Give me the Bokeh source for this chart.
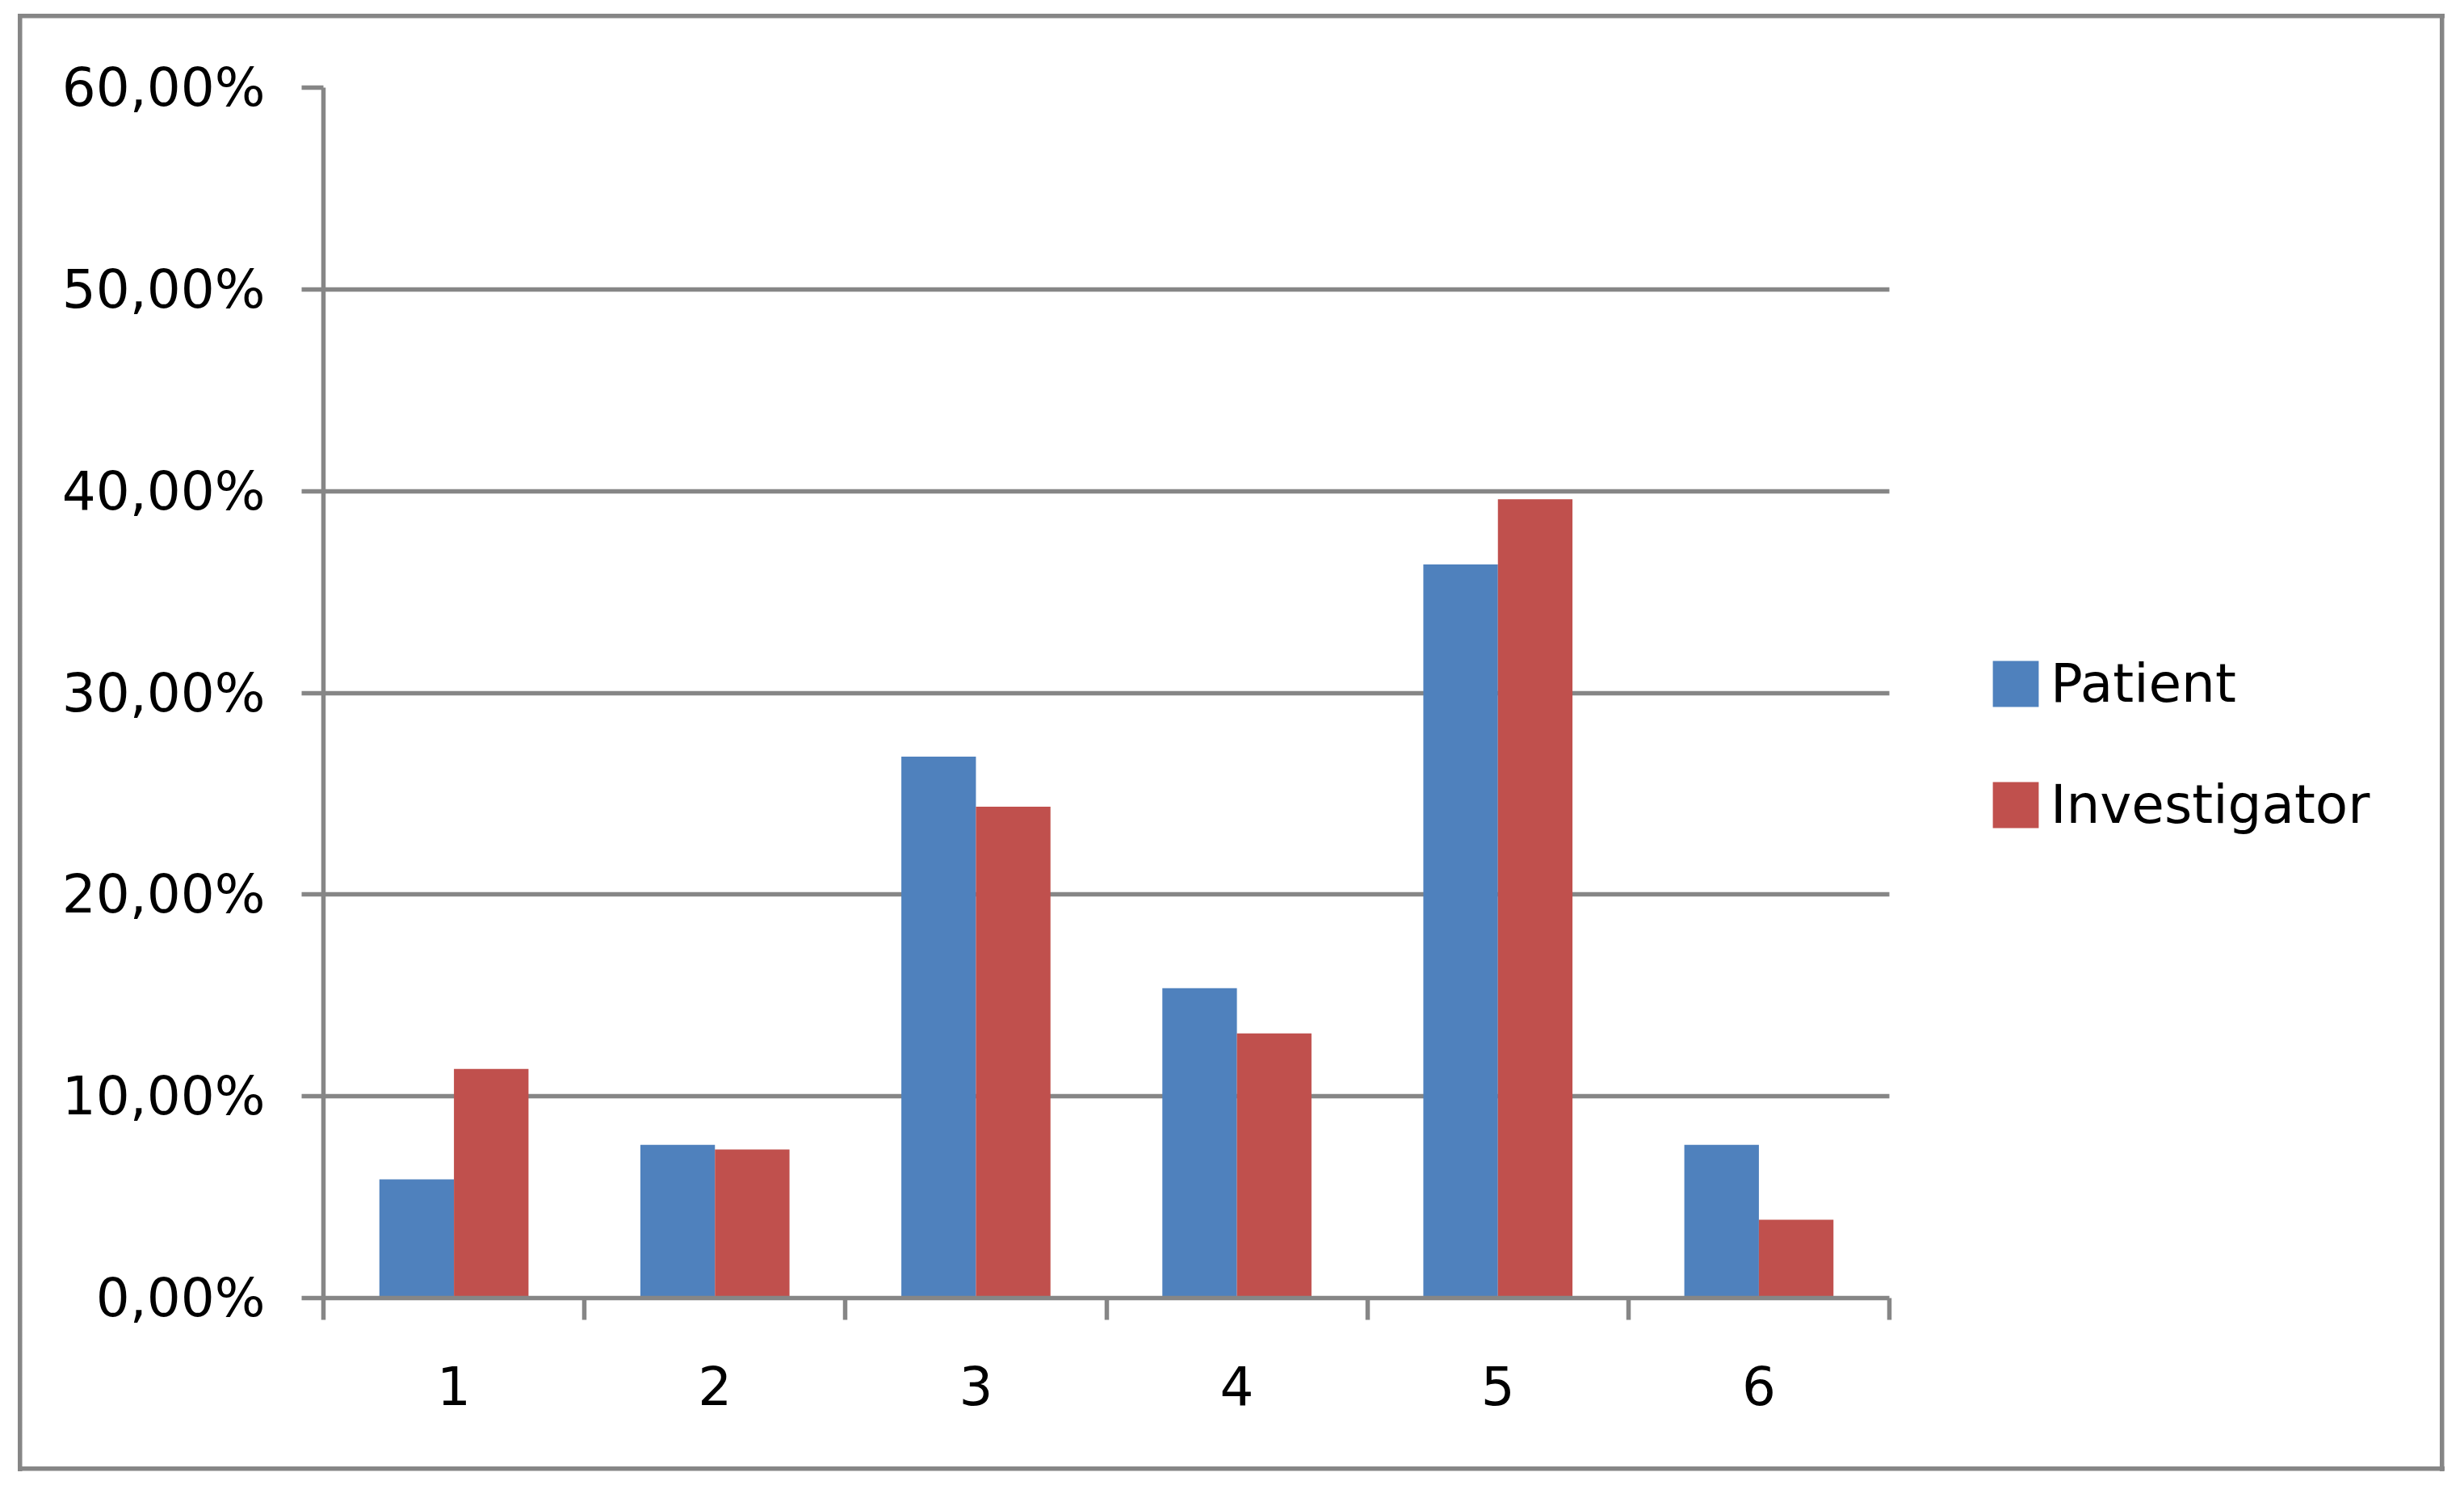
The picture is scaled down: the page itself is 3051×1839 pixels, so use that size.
from bokeh.plotting import figure
from bokeh.models import Range1d, FixedTicker, Legend, LegendItem, ColumnDataSource
from bokeh.transform import dodge
from bokeh.embed import file_html
from bokeh.resources import INLINE

# ---- data ----
categories = ["1", "2", "3", "4", "5", "6"]
patient = [5.88, 7.60, 26.84, 15.36, 36.36, 7.60]
investigator = [11.36, 7.36, 24.36, 13.12, 39.60, 3.88]
series_names = ["Patient", "Investigator"]
y_ticks = [0, 10, 20, 30, 40, 50, 60]
y_tick_labels = ["0,00%", "10,00%", "20,00%", "30,00%", "40,00%", "50,00%", "60,00%"]

GRAY = "#868686"
BLUE = "#4F81BD"
RED = "#C0504D"
FONT = "DejaVu Sans"
FSIZE = "66px"
LW = 5.5

W, H = 3035, 1823
LEFT, TOP, BOTTOM = 400, 108, 1607          # plot frame edges in pixels
CAT_PX = 1939 / len(categories)              # pixels per category
RIGHT_BORDER = 17
frame_w = W - LEFT - RIGHT_BORDER
x_end = 0.5 + frame_w / CAT_PX               # frame extends right to hold the legend

x_pos = list(range(1, len(categories) + 1))
source = ColumnDataSource(dict(x=x_pos, patient=patient, investigator=investigator))

p = figure(width=W, height=H, output_backend="svg", toolbar_location=None,
           x_range=Range1d(0.5, x_end), y_range=Range1d(0, 60),
           min_border_left=LEFT, min_border_right=RIGHT_BORDER,
           min_border_top=TOP, min_border_bottom=H - BOTTOM)
p.outline_line_color = None
p.background_fill_color = "white"
p.border_fill_alpha = 0
p.styles = {
    "background-color": "white",
    "background-image": ", ".join(["linear-gradient(%s,%s)" % (GRAY, GRAY)] * 4),
    "background-size": "5.5px 1805px, 5.5px 1805px, 3005px 5.5px, 3005px 5.5px",
    "background-position": "22px 17px, 3021px 17px, 22px 17px, 22px 1816px",
    "background-repeat": "no-repeat",
}

bw = 1 / 3.5
r1 = p.vbar(x=dodge("x", -bw / 2, range=p.x_range), top="patient", width=bw, source=source,
            fill_color=BLUE, line_color=None)
r2 = p.vbar(x=dodge("x", bw / 2, range=p.x_range), top="investigator", width=bw, source=source,
            fill_color=RED, line_color=None)

# y axis
ya = p.yaxis[0]
ya.ticker = FixedTicker(ticks=y_ticks, minor_ticks=[])
ya.major_label_overrides = dict(zip(y_ticks, y_tick_labels))
ya.axis_line_color = GRAY
ya.axis_line_width = LW
ya.major_tick_line_color = GRAY
ya.major_tick_line_width = LW
ya.major_tick_in = 0
ya.major_tick_out = 27
ya.minor_tick_line_color = None
ya.major_label_standoff = 45
ya.major_label_text_font = FONT
ya.major_label_text_font_size = FSIZE
ya.major_label_text_color = "black"

# x axis: labels at centres, ticks at category boundaries
xa = p.xaxis[0]
xa.bounds = (0.5, len(categories) + 0.5)
xa.ticker = FixedTicker(ticks=x_pos, minor_ticks=[i + 0.5 for i in range(0, len(categories) + 1)])
xa.major_label_overrides = dict(zip(x_pos, categories))
xa.axis_line_color = GRAY
xa.axis_line_width = LW
xa.major_tick_line_color = None
xa.major_tick_in = 0
xa.major_tick_out = 0
xa.minor_tick_line_color = GRAY
xa.minor_tick_line_width = LW
xa.minor_tick_in = 0
xa.minor_tick_out = 27
xa.major_label_standoff = 56
xa.major_label_text_font = FONT
xa.major_label_text_font_size = FSIZE
xa.major_label_text_color = "black"

p.xgrid.visible = False
p.ygrid.ticker = ya.ticker
p.ygrid.grid_line_color = GRAY
p.ygrid.grid_line_width = LW
try:
    p.ygrid.cross_bounds = (0.5, len(categories) + 0.5)
except Exception:
    pass

legend = Legend(items=[LegendItem(label=series_names[0], renderers=[r1]),
                       LegendItem(label=series_names[1], renderers=[r2])],
                location=(2060, 572), glyph_width=71, glyph_height=71, label_height=71,
                label_standoff=8, spacing=73, padding=0, margin=0,
                border_line_color=None, background_fill_alpha=0,
                label_text_font=FONT, label_text_font_size=FSIZE, label_text_color="black")
p.add_layout(legend)

open("out.html", "w").write(file_html(p, INLINE))
